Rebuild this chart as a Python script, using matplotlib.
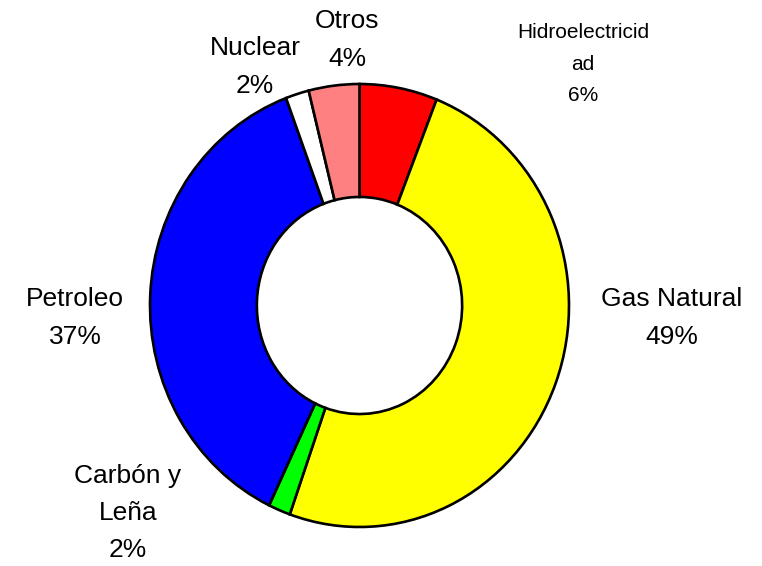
import matplotlib
matplotlib.use("Agg")
import matplotlib.pyplot as plt

categories = ["Hidroelectricidad", "Gas Natural", "Carbón y Leña", "Petroleo", "Nuclear", "Otros"]
values = [6.0, 49.4, 1.7, 37.2, 1.8, 3.9]
label_texts = ["Hidroelectricid\nad", "Gas Natural", "Carbón y\nLeña", "Petroleo", "Nuclear", "Otros"]
colors = ["#FF0000", "#FFFF00", "#00FF00", "#0000FF", "#FFFFFF", "#FF8080"]

plt.rcParams['font.family'] = ['Liberation Sans', 'DejaVu Sans']

W, H = 762, 566
fig = plt.figure(figsize=(W / 100, H / 100), dpi=100)
ax = fig.add_axes([0, 0, 1, 1])

cx, cy, rx, ry = 359.5, 305.5, 209.5, 221.5
ax.pie(values, colors=colors, startangle=90, counterclock=False, radius=1.0,
       wedgeprops=dict(width=0.51, edgecolor="black", linewidth=1.9))
ax.set_aspect('auto')
ax.set_xlim(-cx / rx, (W - cx) / rx)
ax.set_ylim(-(H - cy) / ry, cy / ry)
ax.axis('off')

total = sum(values)
pcts = [f"{round(v / total * 100):.0f}%" for v in values]

# label positions in pixel coords (x center, y center of block)
pos = {
    0: (583, 64, 15, 1.84),
    1: (672, 318, 19, 1.71),
    2: (128, 513, 19, 1.71),
    3: (75, 318, 19, 1.71),
    4: (255, 67, 19, 1.71),
    5: (347, 40, 19, 1.71),
}
for i, (x, y, fs, ls) in pos.items():
    fig.text(x / W, 1 - y / H, label_texts[i] + "\n" + pcts[i], ha="center", va="center",
             fontsize=fs, linespacing=ls, color="black")

fig.savefig("out.png", dpi=100)
